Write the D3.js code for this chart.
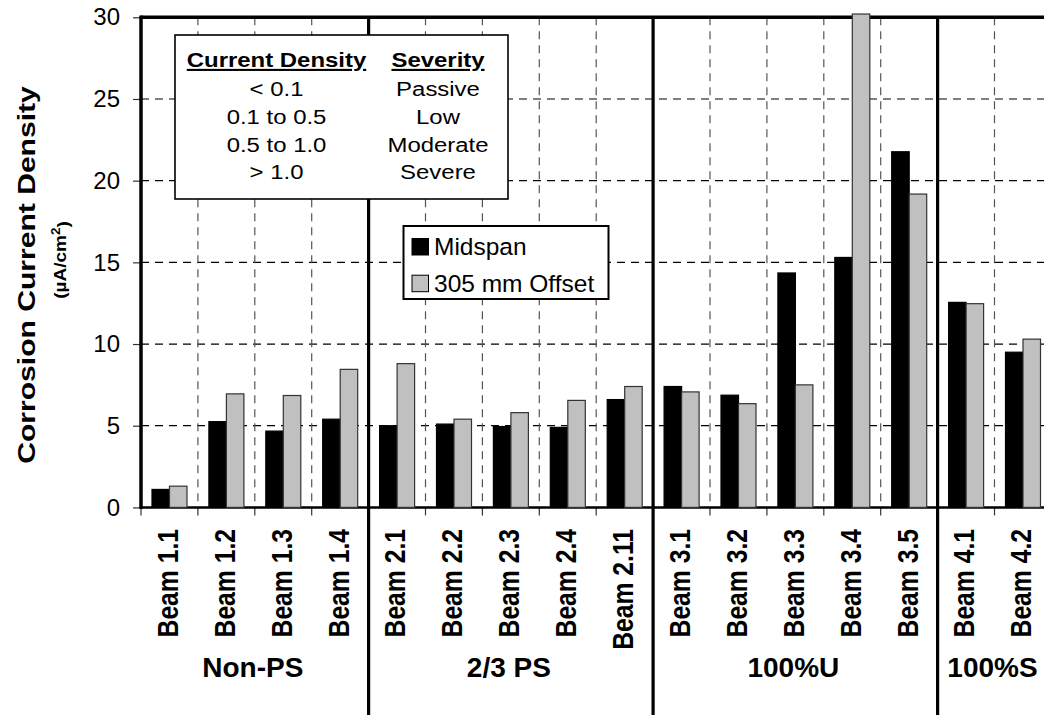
<!DOCTYPE html>
<html><head><meta charset="utf-8">
<script src="https://cdn.jsdelivr.net/npm/d3@7"></script>
<style>
html,body{margin:0;padding:0;background:#fff;overflow:hidden;}
text{font-family:"Liberation Sans",Arial,sans-serif;fill:#000;}
</style></head>
<body>
<svg id="chart" width="1044" height="715"></svg>
<script>
const categories = ["Beam 1.1","Beam 1.2","Beam 1.3","Beam 1.4","Beam 2.1","Beam 2.2","Beam 2.3","Beam 2.4","Beam 2.11","Beam 3.1","Beam 3.2","Beam 3.3","Beam 3.4","Beam 3.5","Beam 4.1","Beam 4.2"];
const midspan = [1.1, 5.25, 4.67, 5.4, 5.0, 5.1, 4.95, 4.9, 6.6, 7.4, 6.87, 14.35, 15.3, 21.77, 12.55, 9.5];
const offset305 = [1.3, 6.95, 6.85, 8.45, 8.8, 5.4, 5.8, 6.55, 7.4, 7.07, 6.35, 7.5, 30.2, 19.18, 12.47, 10.3];
const seriesNames = ["Midspan","305 mm Offset"];
const seriesColors = ["#000000","#c0c0c0"];
const groupNames = ["Non-PS","2/3 PS","100%U","100%S"];
const groupSizes = [4,5,5,2];
const yTicks = [0,5,10,15,20,25,30];
const tableHeader = ["Current Density","Severity"];
const tableDensity = ["< 0.1","0.1 to 0.5","0.5 to 1.0","> 1.0"];
const tableSeverity = ["Passive","Low","Moderate","Severe"];

(function(){
const svg = d3.select("#chart");
const left = 141, plotTop = 17.3, bottom = 507.4;
const step = 56.9;
const x = d3.scaleBand().domain(categories).range([left, left + step*categories.length]).padding(0);
const xs = d3.scaleBand().domain(seriesNames).range([11, 46]).padding(0);
const y = d3.scaleLinear().domain([0,30]).range([bottom, plotTop]);

const groupStart = [];
{ let s = 0; groupSizes.forEach(n => { groupStart.push(s); s += n; }); }
const groupBoundaryIdx = groupStart.slice(1);

svg.append("g").selectAll("line").data(yTicks.filter(t => t>0 && t<30)).join("line")
  .attr("x1", left).attr("x2", 1044).attr("y1", d=>y(d)).attr("y2", d=>y(d))
  .attr("stroke","#000").attr("stroke-width",1.2).attr("stroke-dasharray","8,6");

const innerBounds = d3.range(1, categories.length).filter(i => !groupBoundaryIdx.includes(i));
svg.append("g").selectAll("line").data(innerBounds).join("line")
  .attr("x1", i=>x(categories[i])).attr("x2", i=>x(categories[i]))
  .attr("y1", plotTop).attr("y2", bottom)
  .attr("stroke","#555").attr("stroke-width",1.2).attr("stroke-dasharray","8,6");

svg.append("g").selectAll("line").data(d3.range(0, categories.length)).join("line")
  .attr("x1", i=>x(categories[i])).attr("x2", i=>x(categories[i]))
  .attr("y1", bottom).attr("y2", bottom+8)
  .attr("stroke","#333").attr("stroke-width",1.2);

const yAxis = d3.axisLeft(y).tickValues(yTicks).tickSize(8).tickPadding(13).tickFormat(d3.format("d"));
const yg = svg.append("g").attr("transform",`translate(${left},0)`).call(yAxis);
yg.select(".domain").remove();
yg.selectAll(".tick line").attr("stroke","#333").attr("stroke-width",1.2);
yg.selectAll(".tick text").attr("font-size",24).attr("font-family","Liberation Sans, Arial, sans-serif").attr("fill","#000");

svg.append("line").attr("x1",left).attr("x2",1044).attr("y1",plotTop).attr("y2",plotTop).attr("stroke","#000").attr("stroke-width",3.5);
svg.append("line").attr("x1",left).attr("x2",left).attr("y1",plotTop-1.7).attr("y2",bottom+1.5).attr("stroke","#000").attr("stroke-width",3.5);
svg.append("line").attr("x1",left).attr("x2",1044).attr("y1",bottom).attr("y2",bottom).attr("stroke","#000").attr("stroke-width",2.5);

svg.append("g").selectAll("line").data(groupBoundaryIdx).join("line")
  .attr("x1", i=>x(categories[i])).attr("x2", i=>x(categories[i]))
  .attr("y1", plotTop).attr("y2", 715)
  .attr("stroke","#000").attr("stroke-width",3.2);

const barData = [];
categories.forEach((c,i)=>{
  barData.push({cat:c, s:seriesNames[0], v:midspan[i], col:seriesColors[0]});
  barData.push({cat:c, s:seriesNames[1], v:offset305[i], col:seriesColors[1]});
});
svg.append("g").selectAll("rect").data(barData).join("rect")
  .attr("x", d=>x(d.cat)+xs(d.s))
  .attr("width", xs.bandwidth())
  .attr("y", d=>y(d.v))
  .attr("height", d=>y(0)-y(d.v))
  .attr("fill", d=>d.col)
  .attr("stroke", d=>d.s===seriesNames[0] ? "#000" : "#333")
  .attr("stroke-width",1.2);

svg.append("g").selectAll("text").data(categories).join("text")
  .attr("transform", d=>`translate(${x(d)+x.bandwidth()/2-2},529) scale(1.17,1) rotate(-90)`)
  .attr("text-anchor","end").attr("dy","0.36em")
  .attr("font-size",24.7).attr("font-weight","bold")
  .text(d=>d);

svg.append("g").selectAll("text").data(groupNames).join("text")
  .attr("x",(d,i)=>{ const a = x(categories[groupStart[i]]); const b = x(categories[groupStart[i]+groupSizes[i]-1]) + x.bandwidth(); return (a+b)/2 - 2; })
  .attr("y",677)
  .attr("text-anchor","middle").attr("font-size",28).attr("font-weight","bold")
  .text(d=>d);

svg.append("text").attr("transform","translate(27,275) scale(1,1.28) rotate(-90)")
  .attr("text-anchor","middle").attr("dy","0.36em")
  .attr("font-size",23.5).attr("font-weight","bold").text("Corrosion Current Density");
const sub = svg.append("text").attr("transform","translate(60,260) scale(1,1.12) rotate(-90)")
  .attr("text-anchor","middle").attr("dy","0.36em")
  .attr("font-size",17).attr("font-weight","bold");
sub.append("tspan").text("(\u00b5A/cm");
sub.append("tspan").attr("dy","-0.5em").attr("font-size",12).text("2");
sub.append("tspan").attr("dy","0.5em").text(")");

const tb = svg.append("g");
tb.append("rect").attr("x",175).attr("y",35).attr("width",333).attr("height",164)
  .attr("fill","#fff").attr("stroke","#000").attr("stroke-width",1.6);
const col1 = 276.5, col2 = 438;
const addT = (g, cx, cy, txt, bold, underline) => {
  const t = g.append("text").attr("transform",`translate(${cx},${cy}) scale(1.14,1)`)
    .attr("text-anchor","middle").attr("font-size",21).text(txt);
  if (bold) t.attr("font-weight","bold");
  if (underline) t.attr("text-decoration","underline");
  return t;
};
tableHeader.forEach((h,i)=> addT(tb, i===0?col1:col2, 67, h, true, true));
const rowY = [96, 124, 151.5, 179];
tableDensity.forEach((d,i)=>{
  addT(tb, col1, rowY[i], d, false, false);
  addT(tb, col2, rowY[i], tableSeverity[i], false, false);
});

const lg = svg.append("g");
lg.append("rect").attr("x",403.5).attr("y",226).attr("width",205).attr("height",73)
  .attr("fill","#fff").attr("stroke","#000").attr("stroke-width",2);
seriesNames.forEach((s,i)=>{
  const yy = 238.5 + i*36.7;
  lg.append("rect").attr("x",412).attr("y",yy).attr("width",16.5).attr("height",16.5)
    .attr("fill",seriesColors[i]).attr("stroke","#000").attr("stroke-width",1);
  lg.append("text").attr("x",434).attr("y",yy+16.5).attr("font-size",24.5).text(s);
});
})();
</script>
</body></html>
